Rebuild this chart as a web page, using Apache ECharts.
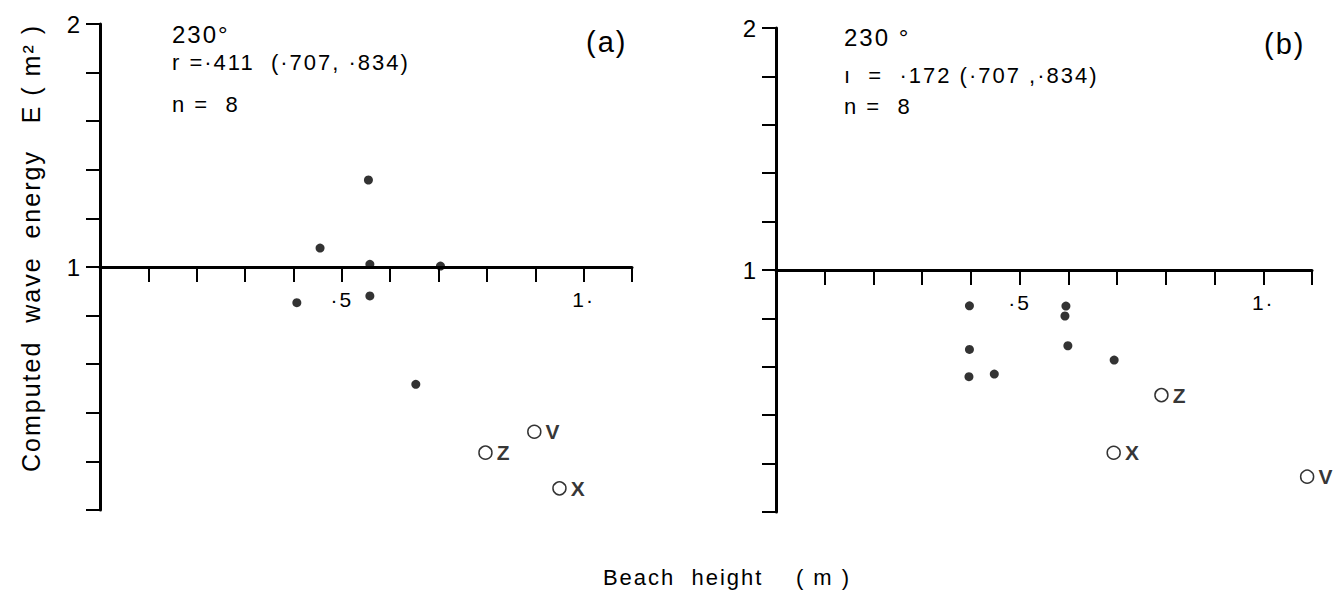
<!DOCTYPE html>
<html>
<head>
<meta charset="utf-8">
<script src="https://cdn.jsdelivr.net/npm/echarts@6/dist/echarts.min.js"></script>
<style>
html,body{margin:0;padding:0;background:#fff;}
#chart{width:1334px;height:602px;}
#chart svg text{letter-spacing:2px;}
</style>
</head>
<body>
<div id="chart"></div>
<script>
// ---- data (beach height m, computed wave energy E m^2) ----
const aDotsX = [0.455, 0.555, 0.558, 0.704, 1.103, 0.558, 0.407, 0.653];
const aDotsE = [1.078, 1.358, 1.011, 1.004, 1.392, 0.881, 0.853, 0.517];
const aOpenNames = ['V', 'Z', 'X'];
const aOpenX = [0.898, 0.797, 0.950];
const aOpenE = [0.322, 0.236, 0.089];

const bDotsX = [0.397, 0.397, 0.396, 0.448, 0.595, 0.593, 0.599, 0.694];
const bDotsE = [0.852, 0.672, 0.559, 0.570, 0.851, 0.810, 0.687, 0.628];
const bOpenNames = ['Z', 'X', 'V'];
const bOpenX = [0.791, 0.693, 1.090];
const bOpenE = [0.483, 0.245, 0.146];

const xTickLabels = { '0.5': '\u00b75', '1': '1\u00b7' };
const yTickLabels = { '1': '1', '2': '2' };

const aNotes = ['230\u00b0', 'r =\u00b7411  (\u00b7707, \u00b7834)', 'n =  8', '(a)'];
const bNotes = ['230 \u00b0', '\u0131  =  \u00b7172 (\u00b7707 ,\u00b7834)', 'n =  8', '(b)'];
const xTitle = 'Beach  height    ( m )';
const yTitle = 'Computed  wave  energy   E ( m\u00b2 )';

// ---- helpers ----
const FONT = '"Liberation Sans", Arial, Helvetica, sans-serif';
function pts(xs, ys) { return xs.map((x, i) => [x, ys[i]]); }
function named(names, xs, ys) { return names.map((n, i) => ({ name: n, value: [xs[i], ys[i]] })); }
function lab(map, v) {
  for (const k in map) { if (Math.abs(parseFloat(k) - v) < 1e-6) return map[k]; }
  return '';
}

const grids = [
  { left: 100, top: 24, width: 532, height: 486 },
  { left: 776, top: 28, width: 536, height: 484 }
];

function xAxisFor(i) {
  return {
    type: 'value', gridIndex: i, min: 0, max: 1.1, interval: 0.1,
    position: 'bottom',
    offset: -grids[i].height / 2,
    axisLine: { onZero: false, lineStyle: { color: '#000', width: 3 } },
    axisTick: { show: true, length: 15, lineStyle: { color: '#000', width: 2 } },
    axisLabel: { margin: 22, color: '#000', fontSize: 21, fontFamily: FONT,
      formatter: v => lab(xTickLabels, v) },
    splitLine: { show: false }
  };
}
function yAxisFor(i) {
  return {
    type: 'value', gridIndex: i, min: 0, max: 2, interval: 0.2,
    position: 'left',
    axisLine: { onZero: false, lineStyle: { color: '#000', width: 3 } },
    axisTick: { show: true, length: 14, lineStyle: { color: '#000', width: 2 } },
    axisLabel: { margin: 18, color: '#000', fontSize: 24, fontFamily: FONT,
      formatter: v => lab(yTickLabels, v) },
    splitLine: { show: false }
  };
}
function dots(i, data) {
  return {
    type: 'scatter', xAxisIndex: i, yAxisIndex: i, data: data,
    symbol: 'circle', symbolSize: 9,
    itemStyle: { color: '#000' }, silent: true
  };
}
function opens(i, data) {
  return {
    type: 'scatter', xAxisIndex: i, yAxisIndex: i, data: data,
    symbol: 'circle', symbolSize: 13,
    itemStyle: { color: '#fff', borderColor: '#000', borderWidth: 1.5 },
    label: { show: true, position: 'right', distance: 4, formatter: '{b}',
      color: '#000', fontSize: 21, fontWeight: 'bold', fontFamily: FONT },
    silent: true
  };
}
function txt(x, y, s, size, align, rot) {
  return {
    type: 'text', x: x, y: y, rotation: rot || 0, silent: true,
    style: { text: s, fill: '#000', font: size + 'px ' + FONT, verticalAlign: 'middle', align: align || 'left' }
  };
}

const chart = echarts.init(document.getElementById('chart'), null, { renderer: 'svg' });
chart.setOption({
  backgroundColor: '#fff',
  animation: false,
  grid: grids,
  xAxis: [xAxisFor(0), xAxisFor(1)],
  yAxis: [yAxisFor(0), yAxisFor(1)],
  series: [
    dots(0, pts(aDotsX, aDotsE)),
    opens(0, named(aOpenNames, aOpenX, aOpenE)),
    dots(1, pts(bDotsX, bDotsE)),
    opens(1, named(bOpenNames, bOpenX, bOpenE))
  ],
  graphic: [
    txt(172, 34, aNotes[0], 24),
    txt(172, 62, aNotes[1], 22),
    txt(172, 104, aNotes[2], 22),
    txt(586, 42, aNotes[3], 29),
    txt(844, 37, bNotes[0], 24),
    txt(844, 75, bNotes[1], 22),
    txt(844, 106, bNotes[2], 22),
    txt(1264, 44, bNotes[3], 29),
    txt(727, 577, xTitle, 22, 'center'),
    txt(31, 248, yTitle, 25, 'center', Math.PI / 2)
  ]
});
</script>
</body>
</html>
